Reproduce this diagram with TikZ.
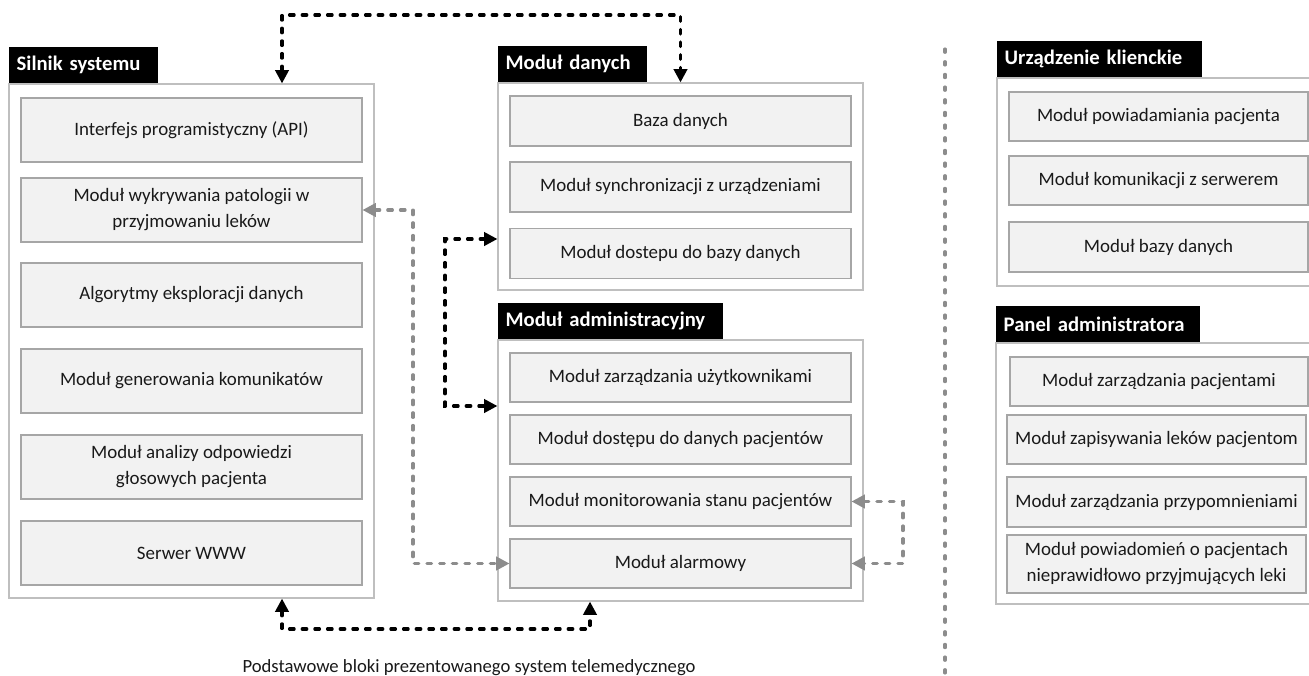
\documentclass[tikz,border=0pt]{standalone}
\usepackage{fontspec}
\setmainfont{Carlito}
\usetikzlibrary{arrows.meta,calc}

\definecolor{ramka}{HTML}{BFBFBF}
\definecolor{tlomodul}{HTML}{F2F2F2}
\definecolor{krawedz}{HTML}{A6A6A6}
\definecolor{szarastrz}{HTML}{8C8C8C}

\tikzset{
	kontener/.style 2 args={draw=ramka, line width=0.9pt, fill=white, inner sep=0pt, minimum width=#1*0.75pt, minimum height=#2*0.75pt},
	modul/.style 2 args={draw=krawedz, line width=0.8pt, fill=tlomodul, align=center, text=black!90, inner sep=1pt, font=\fontsize{14.2}{19.5}\selectfont, minimum width=#1*0.75pt, minimum height=#2*0.75pt},
	naglowek/.style={fill=black, text=white, anchor=south west, align=left, inner xsep=6pt, minimum height=27pt, text width=#1, font=\bfseries\fontsize{15.5}{18}\selectfont},
	czarna/.style={draw=black, line width=2.3pt, line cap=round, dash pattern=on 3.5pt off 6pt, {Triangle[length=10pt,width=10pt]}-{Triangle[length=10pt,width=10pt]}},
	szara/.style={draw=szarastrz, line width=2.3pt, line cap=round, dash pattern=on 3.5pt off 6pt, {Triangle[length=10pt,width=10pt]}-{Triangle[length=10pt,width=10pt]}},
	podzial/.style={draw=szarastrz, line width=2.3pt, line cap=round, dash pattern=on 2.5pt off 7pt}
}

\begin{document}
\begin{tikzpicture}[x=0.75pt, y=-0.75pt]
			%%%%% START %%%%%
			\useasboundingbox (0,0) rectangle (1309,675);
			
			% silnik systemu
			\node[kontener={365}{514}] (silnik) at (191.5,341) {};
			\node[naglowek=99.75pt] (silnikN) at (silnik.north west) {Silnik systemu};
			\node[modul={341}{64}] (api) at (191.5,130) {Interfejs programistyczny (API)};
			\node[modul={341}{64}] (patologia) at (191.5,210) {Moduł wykrywania patologii w\\przyjmowaniu leków};
			\node[modul={341}{64}] (eksploracja) at (191.5,295) {Algorytmy eksploracji danych};
			\node[modul={341}{64}] (komunikaty) at (191.5,381) {Moduł generowania komunikatów};
			\node[modul={341}{64}] (glos) at (191.5,467) {Moduł analizy odpowiedzi\\głosowych pacjenta};
			\node[modul={341}{64}] (www) at (191.5,553) {Serwer WWW};
			
			% modul danych
			\node[kontener={365}{207}] (danych) at (680.5,186.5) {};
			\node[naglowek=99.75pt] (danychN) at (danych.north west) {Moduł danych};
			\node[modul={341}{50}] (baza) at (680.5,121) {Baza danych};
			\node[modul={341}{50}] (synchro) at (680.5,187) {Moduł synchronizacji z urządzeniami};
			\node[modul={341}{50}] (dostep) at (680.5,253.5) {Moduł dostepu do bazy danych};
			
			% modul administracyjny
			\node[kontener={365}{261}] (admin) at (680.5,470.5) {};
			\node[naglowek=156.75pt] (adminN) at (admin.north west) {Moduł administracyjny};
			\node[modul={341}{49}] (uzytkownicy) at (680.5,377.5) {Moduł zarządzania użytkownikami};
			\node[modul={341}{49}] (danepac) at (680.5,439.5) {Moduł dostępu do danych pacjentów};
			\node[modul={341}{49}] (monitor) at (680.5,501.5) {Moduł monitorowania stanu pacjentów};
			\node[modul={341}{49}] (alarm) at (680.5,563.5) {Moduł alarmowy};
			
			% urzadzenie klienckie
			\node[kontener={323}{208}] (klient) at (1158.5,182) {};
			\node[naglowek=141.75pt] (klientN) at (klient.north west) {Urządzenie klienckie};
			\node[modul={299}{49}] (powiadom) at (1158.5,116.5) {Moduł powiadamiania pacjenta};
			\node[modul={299}{49}] (komserw) at (1158.5,180.5) {Moduł komunikacji z serwerem};
			\node[modul={299}{50}] (bazamob) at (1158.5,247) {Moduł bazy danych};
			
			% panel administratora
			\node[kontener={324}{261}] (panel) at (1158,473.5) {};
			\node[naglowek=141pt] (panelN) at (panel.north west) {Panel administratora};
			\node[modul={298}{49}] (pacjenci) at (1159,381.5) {Moduł zarządzania pacjentami};
			\node[modul={299}{49}] (zapis) at (1156.5,439.5) {Moduł zapisywania leków pacjentom};
			\node[modul={299}{50}] (przyp) at (1156.5,502) {Moduł zarządzania przypomnieniami};
			\node[modul={299}{58}] (nieprawid) at (1156.5,564) {Moduł powiadomień o pacjentach\\nieprawidłowo przyjmujących leki};
			
			% linia podzialu
			\draw[podzial] (945,49) -- (945,675);
			
			% polaczenia
			\coordinate (gora) at (680.5,15);
			\coordinate (lewo) at (445,406);
			\coordinate (szaryL) at (413,563.5);
			\coordinate (szaryP) at (903,563.5);
			\coordinate (dol) at (590,629);
			\draw[czarna] ($(silnik.north)+(90.5,0)$) |- (gora) -- (danych.north);
			\draw[czarna] ($(danych.west)+(0,52.5)$) -| (lewo) -- (lewo -| admin.west);
			\draw[czarna] ($(silnik.south)+(90.5,0)$) |- (dol) -- (dol |- admin.south);
			\draw[szara] (patologia.east) -| (szaryL) -- (alarm.west);
			\draw[szara] (monitor.east) -| (szaryP) -- (alarm.east);
			
			\node[text=black!90, font=\fontsize{14}{17}\selectfont] (podpis) at (469,668) {Podstawowe bloki prezentowanego system telemedycznego};
			%%%%% END %%%%%
\end{tikzpicture}
\end{document}
